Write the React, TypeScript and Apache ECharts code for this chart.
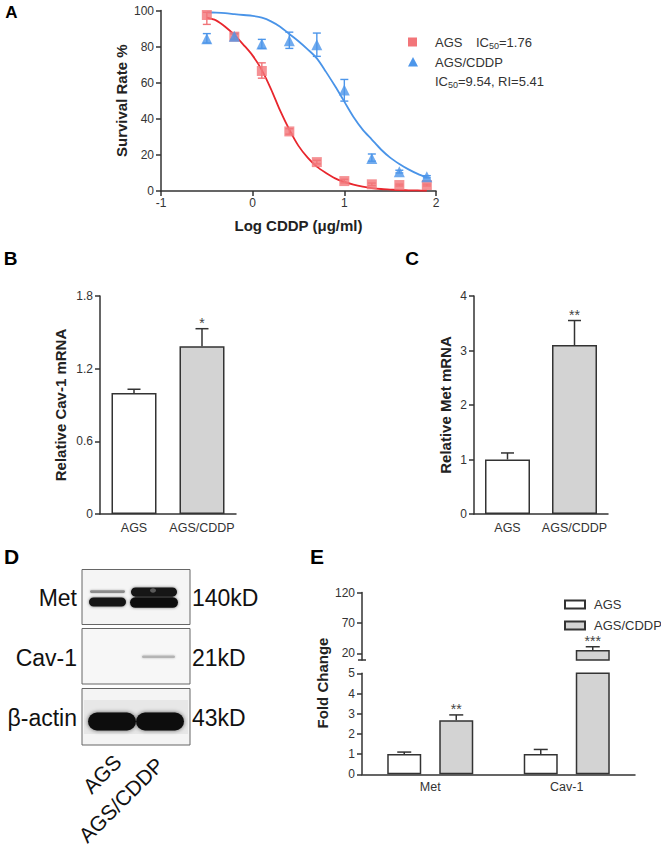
import React, { useEffect, useRef } from "react";
import * as echarts from "echarts";

const FONT = "'Liberation Sans', Arial, Helvetica, sans-serif";
const AXIS = "#333";

// ---------- Panel A: survival curves ----------
const logDose = [-0.5, -0.2, 0.1, 0.4, 0.7, 1.0, 1.3, 1.6, 1.9];
const agsSurvival = [97.5, 85.5, 66.5, 33, 16, 5.5, 3.7, 3.3, 3.3];
const agsLow = [92.3, 84, 62.5, 31.5, 15, 4.5, 3, 2.8, 2.8];
const agsHigh = [99, 87, 71, 34.5, 17, 6.5, 4.4, 3.8, 3.8];
const cddpSurvival = [84.4, 85.7, 81.4, 83.3, 81, 55.9, 18, 10.7, 7.9];
const cddpLow = [82, 84, 79, 79, 74.6, 49.8, 16.5, 10, 7.3];
const cddpHigh = [87.2, 87.3, 84, 88, 87.5, 61.8, 20.5, 11.5, 8.5];

const fitX = [-0.5, -0.4, -0.3, -0.2, -0.1, 0, 0.1, 0.2, 0.3, 0.4, 0.5, 0.6, 0.7, 0.8, 0.9, 1.0, 1.1, 1.2, 1.3, 1.4, 1.5, 1.6, 1.7, 1.8, 1.9];
const agsFit = [96, 94.5, 91, 86.5, 81, 75, 67, 56.5, 44.5, 34, 25, 18.5, 13.5, 10, 7, 5, 3.5, 2.4, 1.6, 1.1, 0.8, 0.5, 0.4, 0.3, 0.2];
const cddpFit = [99, 98.8, 98.5, 98, 97.5, 97, 96, 94, 91, 87, 83, 78.5, 73.5, 66, 58, 49.5, 41, 34, 28.5, 23, 18.5, 15, 12, 9.5, 7.5];

// ---------- Panels B / C ----------
const mrnaGroups = ["AGS", "AGS/CDDP"];
const cav1Mrna = [1.0, 1.385];
const cav1MrnaErr = [0.03, 0.145];
const cav1Stars = ["", "*"];
const metMrna = [1.0, 3.1];
const metMrnaErr = [0.12, 0.45];
const metStars = ["", "**"];

// ---------- Panel E ----------
const proteins = ["Met", "Cav-1"];
const foldAGS = [1.0, 1.0];
const foldAGSErr = [0.1, 0.23];
const foldCDDP = [2.68, 25.4];
const foldCDDPErr = [0.26, 5.4];
const foldCDDPStars = ["**", "***"];
const noStars = ["", ""];

const WHITE = "#ffffff";
const GREY = "#d3d3d3";

function axisCommon() {
  return {
    axisLine: { show: true, onZero: false, lineStyle: { color: AXIS, width: 1.5 } },
    axisTick: { show: true, length: 5, lineStyle: { color: AXIS, width: 1.5 } },
    axisLabel: { color: "#333", fontSize: 12, fontFamily: FONT },
    splitLine: { show: false },
  };
}

function rangeErr(color: string, lows: number[], highs: number[]) {
  return (params: any, api: any) => {
    const i = params.dataIndex;
    const x = api.value(0);
    const p1 = api.coord([x, highs[i]]);
    const p2 = api.coord([x, lows[i]]);
    const w = 4;
    const st = { stroke: color, lineWidth: 1.4 };
    return {
      type: "group",
      children: [
        { type: "line", shape: { x1: p1[0], y1: p1[1], x2: p2[0], y2: p2[1] }, style: st },
        { type: "line", shape: { x1: p1[0] - w, y1: p1[1], x2: p1[0] + w, y2: p1[1] }, style: st },
        { type: "line", shape: { x1: p2[0] - w, y1: p2[1], x2: p2[0] + w, y2: p2[1] }, style: st },
      ],
    };
  };
}

function barErr(offset: number, stars: string[], capHalf: number) {
  return (params: any, api: any) => {
    const i = params.dataIndex;
    const cat = api.value(0);
    const v = api.value(1);
    const e = api.value(2);
    const base = api.coord([cat, v]);
    const top = api.coord([cat, v + e]);
    const cs = params.coordSys;
    if (base[1] < cs.y - 0.5 || top[1] < cs.y - 0.5 || base[1] > cs.y + cs.height + 0.5) return null;
    const x = base[0] + offset;
    const st = { stroke: "#333", lineWidth: 1.5 };
    const children: any[] = [
      { type: "line", shape: { x1: x, y1: base[1], x2: x, y2: top[1] }, style: st },
      { type: "line", shape: { x1: x - capHalf, y1: top[1], x2: x + capHalf, y2: top[1] }, style: st },
    ];
    if (stars[i]) {
      children.push({
        type: "text",
        x,
        y: top[1] + 1,
        style: { text: stars[i], fontSize: 14, fontFamily: FONT, fill: "#444", align: "center", verticalAlign: "bottom" },
      });
    }
    return { type: "group", children };
  };
}

function label(text: string, x: number, y: number, size: number, opts: any = {}) {
  return {
    type: "text",
    x,
    y,
    rotation: opts.rotation || 0,
    style: {
      text,
      fontSize: size,
      fontFamily: FONT,
      fontWeight: opts.bold ? "bold" : "normal",
      fill: opts.fill || "#111",
      align: opts.align || "center",
      verticalAlign: "middle",
      rich: opts.rich,
      lineHeight: opts.lineHeight,
    },
  };
}

function band(x: number, y: number, w: number, h: number, fill: string, blur: number, shadow: string) {
  return {
    type: "rect",
    shape: { x, y, width: w, height: h, r: Math.min(h / 2, 9) },
    style: { fill, shadowBlur: blur, shadowColor: shadow },
  };
}

export default function App() {
  const ref = useRef<HTMLDivElement>(null);

  useEffect(() => {
    if (!ref.current) return;
    const chart = echarts.init(ref.current, undefined, { renderer: "svg" });

    const subRich = { sub: { fontSize: 9, verticalAlign: "bottom", lineHeight: 9, fontFamily: FONT, fill: "#333" } };

    const blot: any[] = [
      // boxes
      { type: "rect", shape: { x: 82, y: 569.5, width: 108, height: 55 }, style: { fill: "#f5f5f5", stroke: "#666", lineWidth: 1 } },
      { type: "rect", shape: { x: 82, y: 628.5, width: 108, height: 55.5 }, style: { fill: "#f7f7f7", stroke: "#666", lineWidth: 1 } },
      { type: "rect", shape: { x: 82, y: 688.5, width: 108, height: 56.5 }, style: { fill: "#f4f4f4", stroke: "#666", lineWidth: 1 } },
      // Met bands
      band(90, 590.3, 35, 2.6, "#8c8c8c", 2, "rgba(0,0,0,0.3)"),
      band(89, 597.5, 37, 9, "#151515", 3, "rgba(0,0,0,0.55)"),
      band(131, 587.5, 46, 9.2, "#121212", 3, "rgba(0,0,0,0.55)"),
      band(130, 597.2, 48, 10.5, "#0e0e0e", 3, "rgba(0,0,0,0.55)"),
      { type: "ellipse", shape: { cx: 153, cy: 590.5, rx: 3, ry: 2.2 }, style: { fill: "#5a5a5a" } },
      // Cav-1 band
      band(142, 655.5, 33, 2.6, "#b4b4b4", 2, "rgba(0,0,0,0.25)"),
      // beta-actin haze + bands
      { type: "rect", shape: { x: 84, y: 700, width: 104, height: 34 }, style: { fill: "rgba(0,0,0,0.05)" } },
      band(88, 712.5, 48, 18, "#0b0b0b", 4, "rgba(0,0,0,0.6)"),
      band(136, 712.5, 48, 18, "#0b0b0b", 4, "rgba(0,0,0,0.6)"),
      // labels
      label("Met", 77, 598, 23, { align: "right" }),
      label("Cav-1", 77, 658, 23, { align: "right" }),
      label("β-actin", 77, 718, 23, { align: "right" }),
      label("140kD", 192, 598, 23, { align: "left" }),
      label("21kD", 192, 658, 23, { align: "left" }),
      label("43kD", 192, 718, 23, { align: "left" }),
      label("AGS", 102, 774, 21, { rotation: Math.PI / 4 }),
      label("AGS/CDDP", 121, 800, 21, { rotation: Math.PI / 4 }),
    ];

    const graphic: any[] = [
      label("A", 11.5, 12, 17, { bold: true, fill: "#000" }),
      label("B", 10.5, 258, 19, { bold: true, fill: "#000" }),
      label("C", 412, 258, 19, { bold: true, fill: "#000" }),
      label("D", 11.5, 556, 21, { bold: true, fill: "#000" }),
      label("E", 317, 556, 21, { bold: true, fill: "#000" }),
      // Panel A legend
      { type: "rect", shape: { x: 408, y: 37.5, width: 9, height: 9 }, style: { fill: "#f27579" } },
      { type: "polygon", shape: { points: [[413, 57], [418, 66.5], [408, 66.5]] }, style: { fill: "#4d96ea" } },
      label("AGS", 435, 42.5, 13, { align: "left", fill: "#333" }),
      label("IC{sub|50}=1.76", 476, 42.5, 13, { align: "left", fill: "#333", rich: subRich, lineHeight: 16 }),
      label("AGS/CDDP", 435, 62, 13, { align: "left", fill: "#333" }),
      label("IC{sub|50}=9.54, RI=5.41", 435, 81, 13, { align: "left", fill: "#333", rich: subRich, lineHeight: 16 }),
      // Panel E axis name and break marks
      label("Fold Change", 322, 683, 15, { bold: true, rotation: Math.PI / 2, fill: "#222" }),
      { type: "line", shape: { x1: 358, y1: 660, x2: 366, y2: 660 }, style: { stroke: AXIS, lineWidth: 1.5 } },
      ...blot,
    ];

    const catLabel = { ...axisCommon().axisLabel, fontSize: 12.5, margin: 7, interval: 0 };

    const option: any = {
      animation: false,
      textStyle: { fontFamily: FONT },
      grid: [
        { left: 161, top: 10.5, width: 275, height: 180.5, outerBoundsMode: "none" },
        { left: 100, top: 296, width: 136, height: 218, outerBoundsMode: "none" },
        { left: 474, top: 296, width: 134, height: 218, outerBoundsMode: "none" },
        { left: 362, top: 592.5, width: 273, height: 67.5, outerBoundsMode: "none" },
        { left: 362, top: 673.3, width: 273, height: 101, outerBoundsMode: "none" },
      ],
      xAxis: [
        {
          ...axisCommon(),
          gridIndex: 0, type: "value", min: -1, max: 2, interval: 1,
          axisLabel: { ...axisCommon().axisLabel, margin: 6 },
          name: "Log CDDP (μg/ml)", nameLocation: "middle", nameGap: 27,
          nameTextStyle: { fontWeight: "bold", fontSize: 15, color: "#222", fontFamily: FONT },
        },
        {
          ...axisCommon(), gridIndex: 1, type: "category", data: mrnaGroups,
          axisTick: { show: false }, axisLabel: catLabel,
        },
        {
          ...axisCommon(), gridIndex: 2, type: "category", data: mrnaGroups,
          axisTick: { show: false }, axisLabel: catLabel,
        },
        { gridIndex: 3, type: "category", data: proteins, show: false },
        {
          ...axisCommon(), gridIndex: 4, type: "category", data: proteins,
          axisTick: { show: false }, axisLabel: { ...catLabel, margin: 6 },
        },
      ],
      yAxis: [
        {
          ...axisCommon(), gridIndex: 0, type: "value", min: 0, max: 100, interval: 20,
          axisLabel: { ...axisCommon().axisLabel, margin: 7 },
          name: "Survival Rate %", nameLocation: "middle", nameGap: 32,
          nameTextStyle: { fontWeight: "bold", fontSize: 15, color: "#222", fontFamily: FONT },
        },
        {
          ...axisCommon(), gridIndex: 1, type: "value", min: 0, max: 1.8, interval: 0.6,
          axisLabel: { ...axisCommon().axisLabel, margin: 7 },
          name: "Relative Cav-1 mRNA", nameLocation: "middle", nameGap: 32,
          nameTextStyle: { fontWeight: "bold", fontSize: 15, color: "#222", fontFamily: FONT },
        },
        {
          ...axisCommon(), gridIndex: 2, type: "value", min: 0, max: 4, interval: 1,
          axisLabel: { ...axisCommon().axisLabel, margin: 7 },
          name: "Relative Met mRNA", nameLocation: "middle", nameGap: 21,
          nameTextStyle: { fontWeight: "bold", fontSize: 15, color: "#222", fontFamily: FONT },
        },
        {
          ...axisCommon(), gridIndex: 3, type: "value", min: 9, max: 120,
          axisTick: { ...axisCommon().axisTick, customValues: [20, 70, 120] },
          axisLabel: { ...axisCommon().axisLabel, margin: 7, customValues: [20, 70, 120] },
        },
        {
          ...axisCommon(), gridIndex: 4, type: "value", min: 0, max: 5, interval: 1,
          axisLabel: { ...axisCommon().axisLabel, margin: 7 },
        },
      ],
      legend: {
        data: ["AGS", "AGS/CDDP"],
        orient: "vertical",
        left: 559,
        top: 593,
        itemWidth: 20,
        itemHeight: 8,
        itemGap: 8,
        icon: "rect",
        selectedMode: false,
        textStyle: { fontSize: 13, color: "#333", fontFamily: FONT, padding: [0, 0, 0, 4] },
      },
      series: [
        // ---- A ----
        {
          name: "AGS fit", type: "line", xAxisIndex: 0, yAxisIndex: 0,
          data: fitX.map((x, i) => [x, agsFit[i]]), smooth: 0.3, showSymbol: false,
          lineStyle: { color: "#e8262d", width: 1.8 }, z: 2,
        },
        {
          name: "AGS/CDDP fit", type: "line", xAxisIndex: 0, yAxisIndex: 0,
          data: fitX.map((x, i) => [x, cddpFit[i]]), smooth: 0.3, showSymbol: false,
          lineStyle: { color: "#4a94e8", width: 1.8 }, z: 2,
        },
        {
          name: "AGS sd", type: "custom", xAxisIndex: 0, yAxisIndex: 0,
          data: logDose.map((x, i) => [x, agsSurvival[i]]),
          renderItem: rangeErr("#f07478", agsLow, agsHigh), z: 3,
        },
        {
          name: "AGS/CDDP sd", type: "custom", xAxisIndex: 0, yAxisIndex: 0,
          data: logDose.map((x, i) => [x, cddpSurvival[i]]),
          renderItem: rangeErr("#4d96ea", cddpLow, cddpHigh), z: 3,
        },
        {
          name: "AGS points", type: "scatter", xAxisIndex: 0, yAxisIndex: 0,
          data: logDose.map((x, i) => [x, agsSurvival[i]]),
          symbol: "rect", symbolSize: 10, itemStyle: { color: "#f27579" }, z: 4,
        },
        {
          name: "AGS/CDDP points", type: "scatter", xAxisIndex: 0, yAxisIndex: 0,
          data: logDose.map((x, i) => [x, cddpSurvival[i]]),
          symbol: "triangle", symbolSize: 11, itemStyle: { color: "#4d96ea" }, z: 4,
        },
        // ---- B ----
        {
          name: "Cav-1 mRNA", type: "bar", xAxisIndex: 1, yAxisIndex: 1, barWidth: 45,
          data: cav1Mrna.map((v, i) => ({ value: v, itemStyle: { color: i === 0 ? WHITE : GREY } })),
          itemStyle: { borderColor: "#333", borderWidth: 1.5 },
        },
        {
          name: "Cav-1 mRNA sem", type: "custom", xAxisIndex: 1, yAxisIndex: 1,
          data: cav1Mrna.map((v, i) => [i, v, cav1MrnaErr[i]]),
          renderItem: barErr(0, cav1Stars, 6.5), z: 3,
        },
        // ---- C ----
        {
          name: "Met mRNA", type: "bar", xAxisIndex: 2, yAxisIndex: 2, barWidth: 45,
          data: metMrna.map((v, i) => ({ value: v, itemStyle: { color: i === 0 ? WHITE : GREY } })),
          itemStyle: { borderColor: "#333", borderWidth: 1.5 },
        },
        {
          name: "Met mRNA sem", type: "custom", xAxisIndex: 2, yAxisIndex: 2,
          data: metMrna.map((v, i) => [i, v, metMrnaErr[i]]),
          renderItem: barErr(0, metStars, 6.5), z: 3,
        },
        // ---- E (lower segment) ----
        {
          name: "AGS", type: "bar", xAxisIndex: 4, yAxisIndex: 4, barWidth: 34, barGap: "53%",
          data: foldAGS, itemStyle: { color: WHITE, borderColor: "#333", borderWidth: 1.5 },
        },
        {
          name: "AGS/CDDP", type: "bar", xAxisIndex: 4, yAxisIndex: 4, barWidth: 34, barGap: "53%",
          data: foldCDDP, itemStyle: { color: GREY, borderColor: "#333", borderWidth: 1.5 },
        },
        // ---- E (upper segment) ----
        {
          name: "AGS", type: "bar", xAxisIndex: 3, yAxisIndex: 3, barWidth: 34, barGap: "53%",
          data: foldAGS.map((v) => (v > 9 ? v : "-")), itemStyle: { color: WHITE, borderColor: "#333", borderWidth: 1.5 },
        },
        {
          name: "AGS/CDDP", type: "bar", xAxisIndex: 3, yAxisIndex: 3, barWidth: 34, barGap: "53%",
          data: foldCDDP.map((v) => (v > 9 ? v : "-")), itemStyle: { color: GREY, borderColor: "#333", borderWidth: 1.5 },
        },
        {
          name: "AGS fold sem", type: "custom", xAxisIndex: 4, yAxisIndex: 4,
          data: foldAGS.map((v, i) => [i, v, foldAGSErr[i]]),
          renderItem: barErr(-26, noStars, 7), z: 3,
        },
        {
          name: "AGS/CDDP fold sem", type: "custom", xAxisIndex: 4, yAxisIndex: 4,
          data: foldCDDP.map((v, i) => [i, v, foldCDDPErr[i]]),
          renderItem: barErr(26, foldCDDPStars, 7), z: 3,
        },
        {
          name: "AGS/CDDP fold sem upper", type: "custom", xAxisIndex: 3, yAxisIndex: 3,
          data: foldCDDP.map((v, i) => [i, v, foldCDDPErr[i]]),
          renderItem: barErr(26, foldCDDPStars, 7), z: 3,
        },
      ],
      graphic,
    };

    chart.setOption(option);
    return () => chart.dispose();
  }, []);

  return (
    <div
      ref={ref}
      style={{ position: "absolute", left: 0, top: 0, width: 661, height: 859, background: "#fff" }}
    />
  );
}
